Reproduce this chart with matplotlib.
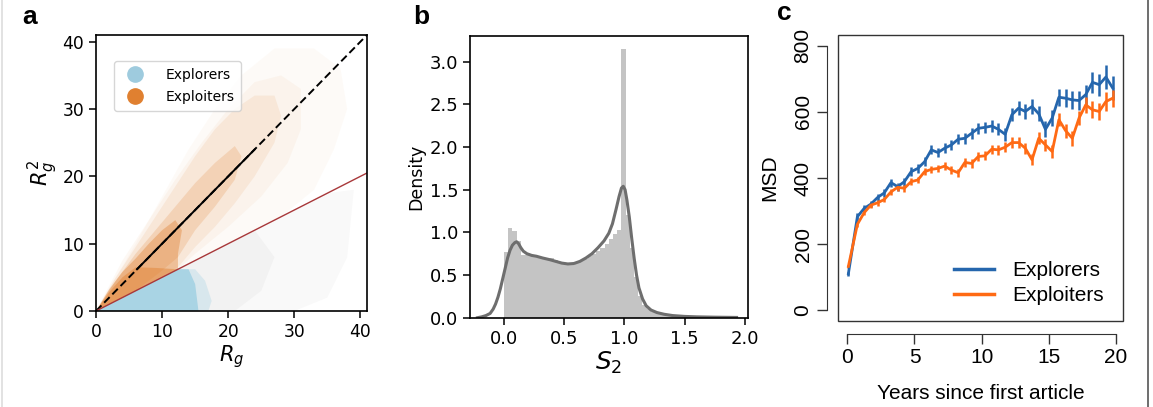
import matplotlib
matplotlib.use("Agg")
import matplotlib.pyplot as plt
from matplotlib.patches import Polygon, Rectangle
from matplotlib.lines import Line2D

# ---------------- Panel a data (cloud regions) ----------------
grey_outer = [(8, 0), (12, 6), (20, 10), (28, 14), (35, 17.5), (39, 18), (38, 8), (35, 2), (30, 0)]
grey_inner = [(10, 0), (12.4, 6.2), (18, 9), (24, 12), (27, 8), (25, 3), (21, 0)]
blue_fringe = [(12.4, 6.2), (15, 6.2), (16.5, 4.5), (17.5, 1.5), (17, 0), (14, 0)]
blue_core = [(0, 0), (12.4, 6.2), (14, 6.2), (15, 4), (15.5, 0)]
orange_outer = [(0, 0), (6, 10), (10, 17), (14, 24), (18, 30), (22, 35), (27, 39), (33, 39),
                (37, 36), (38, 30), (36, 24), (33, 18), (28, 14), (20, 10), (12.4, 6.2)]
orange_wide = [(0, 0), (4, 7.5), (8, 13.5), (12, 19.5), (16, 25), (20, 30), (24, 34), (28, 35),
               (31, 33), (31, 27), (29, 22), (25, 17), (20, 12.5), (15, 8.5), (12.4, 6.2)]
orange_mid = [(0, 0), (3, 5), (6, 9.5), (9, 14), (12, 18.5), (15, 23), (18, 27), (21, 30),
              (24, 32), (27, 32), (28, 29), (27, 25), (24, 20), (21, 16), (18, 12.5),
              (15, 9.5), (12.4, 6.5), (6, 3)]
orange_dense = [(0, 0), (3, 4.5), (6, 8.5), (9, 12), (12, 15.5), (15, 19), (18, 22), (21, 24.5),
                (22, 23), (21, 19.5), (18, 15.5), (15, 12), (12.4, 8), (10, 6), (6, 3)]
orange_core = [(0, 0), (2, 3.2), (4, 5.8), (6, 7.8), (8, 10), (10, 12), (12, 13.5), (13, 12),
               (12.4, 8.5), (12.4, 6.2), (6, 3)]
orange_block = [(0, 0), (2, 2.8), (4, 5), (6, 6.5), (9, 6.4), (12.4, 6.2), (6, 3)]
diag_x = [0, 41]
diag_y = [0, 41]
mean_x = [6.2, 24]
mean_y = [6.2, 24]
half_x = [0, 41]
half_y = [0, 20.5]

# ---------------- Panel b data ----------------
bin_width = 0.0348
hist_heights = [0.77, 1.05, 1.02, 0.90, 0.73, 0.73, 0.72, 0.72, 0.70, 0.69,
                0.69, 0.70, 0.68, 0.65, 0.63, 0.62, 0.62, 0.64, 0.66, 0.69,
                0.72, 0.75, 0.78, 0.82, 0.86, 0.92, 0.98, 1.03, 3.15, 1.20,
                0.82, 0.48, 0.25, 0.15, 0.10, 0.07, 0.05, 0.04, 0.03, 0.025,
                0.02, 0.017, 0.014, 0.012, 0.01, 0.009, 0.008, 0.007, 0.006, 0.005]
bin_left = [bin_width * k for k in range(len(hist_heights))]
kde_x = [-0.22, -0.185, -0.15, -0.115, -0.09, -0.07, -0.05, -0.03, -0.01, 0.01, 0.03, 0.05,
         0.07, 0.09, 0.105, 0.12, 0.14, 0.16, 0.19, 0.23, 0.27, 0.32, 0.38, 0.43, 0.48, 0.53,
         0.58, 0.63, 0.68, 0.73, 0.78, 0.83, 0.87, 0.90, 0.93, 0.955, 0.975, 0.99, 1.005, 1.02,
         1.04, 1.06, 1.08, 1.10, 1.12, 1.15, 1.18, 1.22, 1.27, 1.33, 1.40, 1.50, 1.60, 1.75, 1.93]
kde_y = [0.0, 0.01, 0.025, 0.05, 0.10, 0.16, 0.24, 0.34, 0.46, 0.58, 0.70, 0.79,
         0.85, 0.88, 0.89, 0.87, 0.82, 0.78, 0.75, 0.73, 0.72, 0.70, 0.68, 0.66, 0.64, 0.63,
         0.635, 0.66, 0.70, 0.75, 0.82, 0.90, 0.99, 1.10, 1.27, 1.42, 1.52, 1.54, 1.50, 1.38,
         1.18, 0.93, 0.70, 0.50, 0.35, 0.22, 0.14, 0.09, 0.06, 0.04, 0.025, 0.015, 0.01, 0.006, 0.003]

# ---------------- Panel c data ----------------
years = [0.08] + [0.75 + 0.5 * k for k in range(39)]
explorers = [111, 283, 308, 321, 341, 355, 386, 374, 389, 419,
             429, 449, 485, 477, 490, 500, 517, 520, 535, 550,
             553, 557, 547, 532, 591, 611, 601, 616, 594, 547,
             581, 644, 641, 636, 634, 652, 689, 682, 705, 672]
explorers_err = [6, 10, 10, 10, 11, 11, 12, 12, 12, 13,
                 13, 14, 14, 14, 15, 15, 15, 16, 16, 17,
                 17, 18, 18, 19, 20, 21, 22, 22, 23, 24,
                 25, 26, 27, 28, 28, 30, 32, 33, 36, 35]
exploiters = [133, 260, 295, 318, 325, 335, 358, 372, 369, 389,
              394, 419, 426, 429, 436, 424, 416, 447, 444, 465,
              467, 487, 485, 493, 507, 507, 490, 455, 520, 500,
              480, 576, 543, 520, 581, 621, 606, 601, 631, 641]
exploiters_err = [5, 8, 8, 8, 9, 9, 9, 10, 10, 10,
                  10, 11, 11, 11, 12, 12, 12, 13, 13, 13,
                  14, 14, 15, 15, 16, 16, 17, 17, 18, 18,
                  19, 20, 21, 22, 22, 24, 26, 27, 28, 26]

W, H = 1153, 407
fig = plt.figure(figsize=(W / 100, H / 100), dpi=100)

def box(l, t, r, b):
    return [l / W, 1 - b / H, (r - l) / W, (b - t) / H]

# ---------------- Panel a ----------------
ax = fig.add_axes(box(96, 35, 367, 311))
ORANGE = '#e08030'
BLUE = '#a9d4e4'
for poly, col, a in [(grey_outer, '#cfcfcf', 0.12), (grey_inner, '#cfcfcf', 0.16),
                     (blue_fringe, BLUE, 0.35), (blue_core, BLUE, 1.0),
                     (orange_outer, ORANGE, 0.035), (orange_wide, ORANGE, 0.05),
                     (orange_mid, ORANGE, 0.1), (orange_dense, ORANGE, 0.2),
                     (orange_core, ORANGE, 0.38), (orange_block, ORANGE, 0.45)]:
    ax.add_patch(Polygon(poly, closed=True, facecolor=col, edgecolor='none', alpha=a))
ax.plot(diag_x, diag_y, color='black', lw=1.4, ls=(0, (4, 2)))
ax.plot(mean_x, mean_y, color='black', lw=1.4)
ax.plot(half_x, half_y, color='#a8383a', lw=1.0)
ax.set_xlim(0, 41)
ax.set_ylim(0, 41)
ax.set_xticks([0, 10, 20, 30, 40])
ax.set_yticks([0, 10, 20, 30, 40])
ax.tick_params(labelsize=12.3, length=5, width=1.1)
for s in ax.spines.values():
    s.set_linewidth(1.2)
ax.set_xlabel('$R_g$', fontsize=15, labelpad=2)
ax.set_ylabel('$R_g^2$', fontsize=15, labelpad=2)
handles = [Line2D([], [], ls='none', marker='o', markersize=11, color='#9ecbde'),
           Line2D([], [], ls='none', marker='o', markersize=11, color='#e08030')]
ax.legend(handles, ['Explorers', 'Exploiters'], loc='upper left', fontsize=10,
          bbox_to_anchor=(0.04, 0.93), handletextpad=1.2, borderpad=0.5, labelspacing=0.55)
fig.text(22 / W, 1 - 17 / H, 'a', fontsize=19, fontweight='bold', family='Liberation Sans', va='center')

# ---------------- Panel b ----------------
bx = fig.add_axes(box(470, 35.7, 748, 317.7))
bx.bar(bin_left, hist_heights, width=bin_width, align='edge', color='#c4c4c4', edgecolor='none')
bx.plot(kde_x, kde_y, color='#6e6e6e', lw=2.2)
bx.set_xlim(-0.282, 2.025)
bx.set_ylim(0, 3.305)
bx.set_xticks([0.0, 0.5, 1.0, 1.5, 2.0])
bx.set_yticks([0.0, 0.5, 1.0, 1.5, 2.0, 2.5, 3.0])
bx.tick_params(labelsize=13, length=5, width=1.1)
for s in bx.spines.values():
    s.set_linewidth(1.2)
bx.set_ylabel('Density', fontsize=12.5, labelpad=3)
bx.set_xlabel('$S_2$', fontsize=18, labelpad=2)
fig.text(413 / W, 1 - 17 / H, 'b', fontsize=19, fontweight='bold', family='Liberation Sans', va='center')

# ---------------- Panel c ----------------
cx = fig.add_axes(box(838.3, 35, 1122.7, 321))
C_BLUE = '#2566ad'
C_ORANGE = '#ff6a14'
cx.errorbar(years, explorers, yerr=explorers_err, color=C_BLUE, lw=2, elinewidth=1.8, capsize=0)
cx.errorbar(years, exploiters, yerr=exploiters_err, color=C_ORANGE, lw=2, elinewidth=1.8, capsize=0)
cx.set_xlim(-0.67, 20.5)
cx.set_ylim(-32, 832)
for side in ['top', 'right', 'left', 'bottom']:
    cx.spines[side].set_visible(False)
cx.add_patch(Rectangle((0, 0), 1, 1, transform=cx.transAxes, fill=False, edgecolor='#333333',
                       lw=1.0, clip_on=False))
cx.spines['left'].set_visible(True)
cx.spines['bottom'].set_visible(True)
cx.spines['left'].set_position(('outward', 8))
cx.spines['bottom'].set_position(('outward', 9))
cx.spines['left'].set_bounds(0, 800)
cx.spines['bottom'].set_bounds(0, 20)
cx.spines['left'].set_color('#333333')
cx.spines['bottom'].set_color('#333333')
cx.set_xticks([0, 5, 10, 15, 20])
cx.set_yticks([0, 200, 400, 600, 800])
cx.tick_params(length=7, width=1.0, color='#333333', labelsize=15)
for lab in cx.get_xticklabels() + cx.get_yticklabels():
    lab.set_family('Liberation Sans')
for lab in cx.get_yticklabels():
    lab.set_rotation(90)
    lab.set_va('center')
cx.set_xlabel('Years since first article', fontsize=15, family='Liberation Sans', labelpad=12)
cx.set_ylabel('MSD', fontsize=15, family='Liberation Sans', labelpad=10)
leg = cx.legend([Line2D([], [], color=C_BLUE, lw=2.5), Line2D([], [], color=C_ORANGE, lw=2.5)],
                ['Explorers', 'Exploiters'], loc='lower right', frameon=False,
                prop={'family': 'Liberation Sans', 'size': 15}, handlelength=1.9,
                handletextpad=0.9, labelspacing=0.3, bbox_to_anchor=(1.0, -0.01))
fig.text(777 / W, 1 - 13 / H, 'c', fontsize=19, fontweight='bold', family='Liberation Sans', va='center')

# figure frame lines
fig.add_artist(Line2D([1.5 / W, 1.5 / W], [0, 1], color='#dddddd', lw=1.2))
fig.add_artist(Line2D([1148 / W, 1148 / W], [0, 1], color='#555555', lw=1.2))

fig.savefig('out.png', dpi=100)
